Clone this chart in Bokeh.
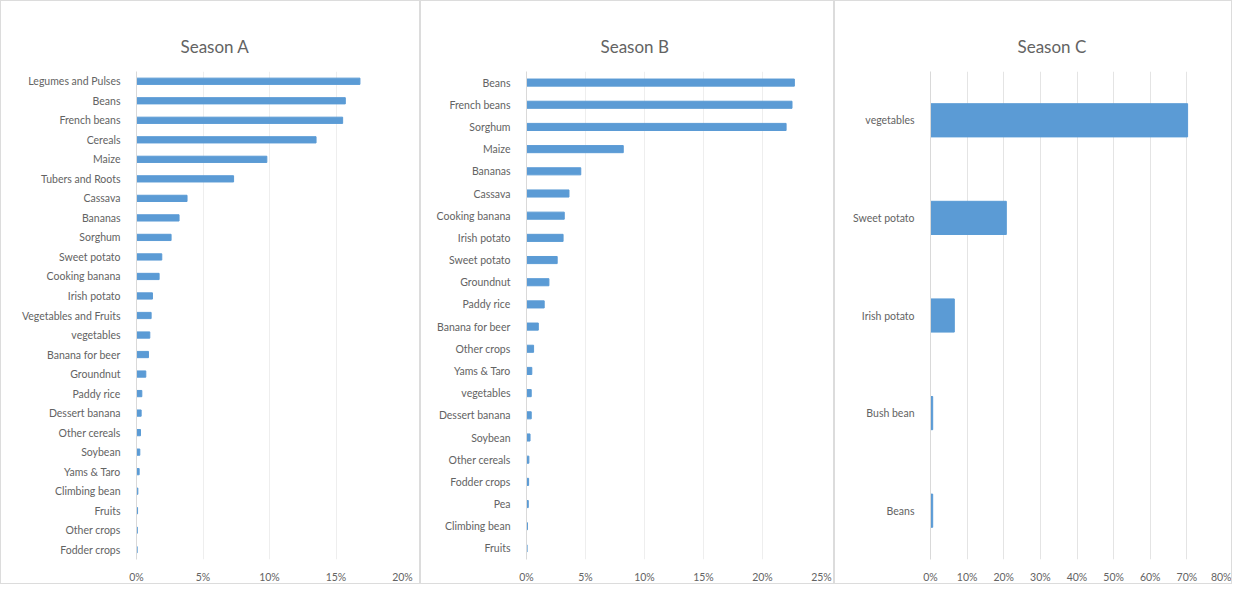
from bokeh.plotting import figure
from bokeh.layouts import row
from bokeh.models import FactorRange, Range1d, PrintfTickFormatter, FixedTicker
from bokeh.embed import file_html
from bokeh.resources import INLINE

# ---- data (percent of area) ----
crops_a = ["Legumes and Pulses", "Beans", "French beans", "Cereals", "Maize",
           "Tubers and Roots", "Cassava", "Bananas", "Sorghum", "Sweet potato",
           "Cooking banana", "Irish potato", "Vegetables and Fruits", "vegetables",
           "Banana for beer", "Groundnut", "Paddy rice", "Dessert banana",
           "Other cereals", "Soybean", "Yams & Taro", "Climbing bean", "Fruits",
           "Other crops", "Fodder crops"]
share_a = [16.8, 15.7, 15.5, 13.5, 9.8, 7.3, 3.8, 3.2, 2.6, 1.9, 1.7, 1.2, 1.1,
           1.0, 0.9, 0.7, 0.4, 0.35, 0.3, 0.25, 0.2, 0.1, 0.08, 0.06, 0.05]

crops_b = ["Beans", "French beans", "Sorghum", "Maize", "Bananas", "Cassava",
           "Cooking banana", "Irish potato", "Sweet potato", "Groundnut",
           "Paddy rice", "Banana for beer", "Other crops", "Yams & Taro",
           "vegetables", "Dessert banana", "Soybean", "Other cereals",
           "Fodder crops", "Pea", "Climbing bean", "Fruits"]
share_b = [22.7, 22.5, 22.0, 8.2, 4.6, 3.6, 3.2, 3.1, 2.6, 1.9, 1.5, 1.0, 0.6,
           0.45, 0.4, 0.4, 0.3, 0.2, 0.18, 0.15, 0.08, 0.05]

crops_c = ["vegetables", "Sweet potato", "Irish potato", "Bush bean", "Beans"]
share_c = [70.2, 20.7, 6.5, 0.6, 0.6]

ticks_a = [0, 5, 10, 15, 20]
ticks_b = [0, 5, 10, 15, 20, 25]
ticks_c = [0, 10, 20, 30, 40, 50, 60, 70, 80]

titles = ["Season A", "Season B", "Season C"]

FONT = "Lato"
GREY = "#636363"
BLUE = "#5B9BD5"


def make_panel(title, cats, vals, ticks, width, left, right, bar_h, grid_col, t_off):
    p = figure(width=width, height=584, output_backend="svg", toolbar_location=None,
               y_range=FactorRange(factors=list(reversed(cats)), range_padding=0),
               x_range=Range1d(0, ticks[-1]),
               min_border_left=left, min_border_right=right,
               min_border_top=70, min_border_bottom=18,
               title=title,
               styles={"border": "1px solid #dcdcdc", "box-sizing": "border-box"})
    p.hbar(y=cats, right=vals, left=0, height=bar_h, color=BLUE)
    p.title.align = "left"
    p.title.offset = t_off
    p.title.text_font = FONT
    p.title.text_font_size = "17px"
    p.title.text_font_style = "normal"
    p.title.text_color = GREY
    p.title.standoff = 29
    p.outline_line_color = None
    p.ygrid.grid_line_color = None
    p.xgrid.grid_line_color = grid_col
    p.xaxis.ticker = FixedTicker(ticks=ticks)
    p.xaxis.formatter = PrintfTickFormatter(format="%d%%")
    for ax in (p.xaxis, p.yaxis):
        ax.major_tick_line_color = None
        ax.minor_tick_line_color = None
        ax.major_label_text_font = FONT
        ax.major_label_text_font_size = "10.5px"
        ax.major_label_text_color = GREY
    p.xaxis.axis_line_color = None
    p.yaxis.axis_line_color = "#d9d9d9"
    p.xaxis.major_label_standoff = 5
    p.yaxis.major_label_standoff = 10
    return p


pa = make_panel(titles[0], crops_a, share_a, ticks_a, 420, 135, 19, 0.32, "#eeeeee", 44)
pb = make_panel(titles[1], crops_b, share_b, ticks_b, 414, 105, 14, 0.32, "#eeeeee", 74)
pc = make_panel(titles[2], crops_c, share_c, ticks_c, 398, 95, 10, 0.34, "#e4e4e4", 87)

layout = row(pa, pb, pc, spacing=0)
open("out.html", "w").write(file_html(layout, INLINE))
